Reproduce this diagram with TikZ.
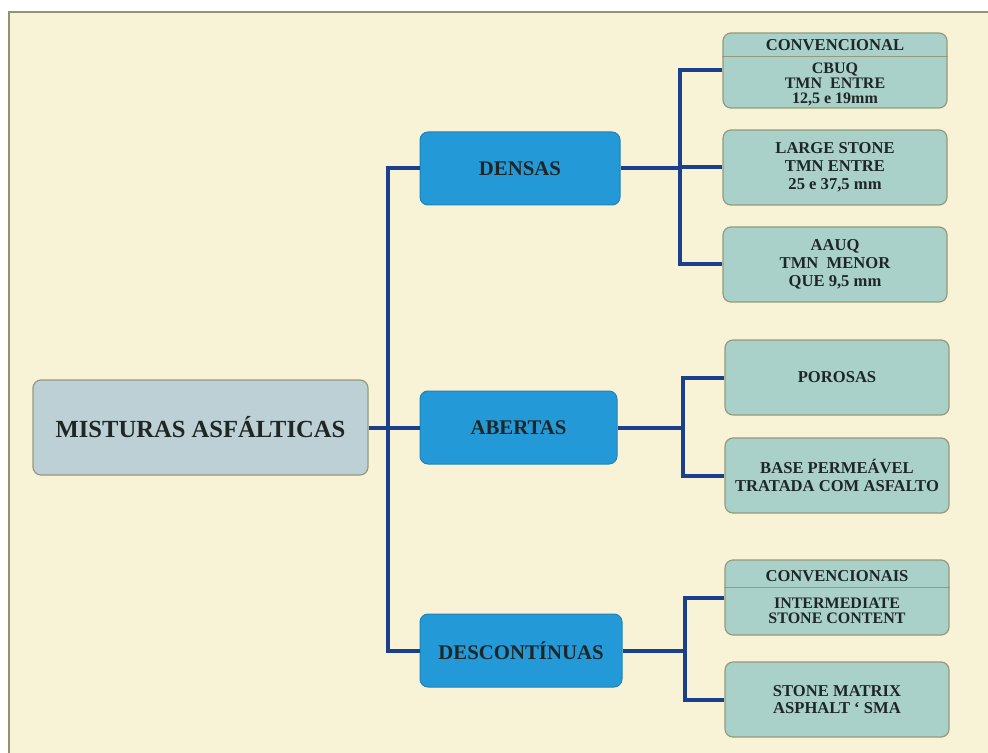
\documentclass[tikz,border=0pt]{standalone}
\usepackage{fontspec}
\setmainfont{Liberation Serif}
\usetikzlibrary{calc, positioning, backgrounds}
\definecolor{paper}{HTML}{F8F3D6}
\definecolor{frameline}{HTML}{8C9478}
\definecolor{rootfill}{HTML}{BDD0D6}
\definecolor{midfill}{HTML}{2499D8}
\definecolor{leaffill}{HTML}{A9D0C9}
\definecolor{boxline}{HTML}{959A7C}
\definecolor{linkblue}{HTML}{1C3F8C}
\definecolor{ink}{HTML}{1E2626}
\tikzset{
    rootbox/.style={draw=boxline, fill=rootfill, rounded corners=4pt, line width=0.6pt,
        minimum width=167.5pt, minimum height=47.5pt, text=ink,
        font=\fontsize{12.3}{14}\selectfont\bfseries},
    midbox/.style={draw=midfill!85!black, fill=midfill, rounded corners=4pt, line width=0.5pt,
        minimum width=#1, minimum height=36.5pt, text=ink,
        font=\fontsize{10.4}{12}\selectfont\bfseries},
    midbox/.default={100pt},
    leafbox/.style={draw=boxline, fill=leaffill, rounded corners=4pt, line width=0.6pt,
        minimum width=112pt, minimum height=37.5pt, text=ink, align=center, inner sep=1pt,
        font=\fontsize{8.3}{8.9}\selectfont\bfseries},
    headtext/.style={text=ink, inner sep=0pt, font=\fontsize{8.3}{8.9}\selectfont\bfseries},
    bodytext/.style={text=ink, inner sep=0pt, align=center, font=\fontsize{8}{7.7}\selectfont\bfseries},
    divline/.style={draw=boxline, line width=0.4pt},
    link/.style={draw=linkblue, line width=2pt},
}
\begin{document}
\begin{tikzpicture}[x=0.5pt, y=-0.5pt]
    \useasboundingbox[fill=white] (0,0) rectangle (988,753);
    \draw[fill=paper, draw=frameline, line width=1pt] (9,12) rectangle (1000,765);
    % nodes
    \node[rootbox] (misturas) at (200.5,427.5) {MISTURAS ASFÁLTICAS};
    \node[midbox] (densas) at (520,168.5) {DENSAS};
    \node[midbox=98.5pt] (abertas) at (518.5,427.5) {ABERTAS};
    \node[midbox=101pt] (descont) at (521,650.5) {DESCONTÍNUAS};
    \node[leafbox] (conv) at (835,70.5) {};
    \node[headtext] (convhead) at (835,45) {CONVENCIONAL};
    \node[bodytext] (convbody) at (835,84.5) {CBUQ\\TMN\ \ ENTRE\\12,5 e 19mm};
    \node[leafbox] (large) at (835,167.5) {LARGE STONE\\TMN ENTRE\\25 e 37,5 mm};
    \node[leafbox] (aauq) at (835,264.5) {AAUQ\\TMN\ \ MENOR\\QUE 9,5 mm};
    \node[leafbox] (porosas) at (837,377.5) {POROSAS};
    \node[leafbox] (basep) at (837,475.5) {BASE PERMEÁVEL\\TRATADA COM ASFALTO};
    \node[leafbox] (convs) at (837,597.5) {};
    \node[headtext] (convshead) at (837,576) {CONVENCIONAIS};
    \node[bodytext] (convsbody) at (837,611) {INTERMEDIATE\\STONE CONTENT};
    \node[leafbox] (sma) at (837,699.5) {STONE MATRIX\\ASPHALT ` SMA};
    \draw[divline] ([yshift=-12pt]conv.north west) -- ([yshift=-12pt]conv.north east);
    \draw[divline] ([yshift=-14pt]convs.north west) -- ([yshift=-14pt]convs.north east);
    % bus lines
    \coordinate (trunk) at (388,427.5);
    \coordinate (busD) at (680,168.5);
    \coordinate (busA) at (683,427.5);
    \coordinate (busC) at (685,650.5);
    \draw[link] (misturas.east) -- (abertas.west);
    \draw[link] (densas.west) -| (trunk |- descont.west) -- (descont.west);
    \draw[link] (densas.east) -- (busD);
    \draw[link] (conv.west) -| (busD) |- (aauq.west);
    \draw[link] (large.west) -- (large.west -| busD);
    \draw[link] (abertas.east) -- (busA);
    \draw[link] (porosas.west) -| (busA) |- (basep.west);
    \draw[link] (descont.east) -- (busC);
    \draw[link] (convs.west) -| (busC) |- (sma.west);
\end{tikzpicture}
\end{document}
